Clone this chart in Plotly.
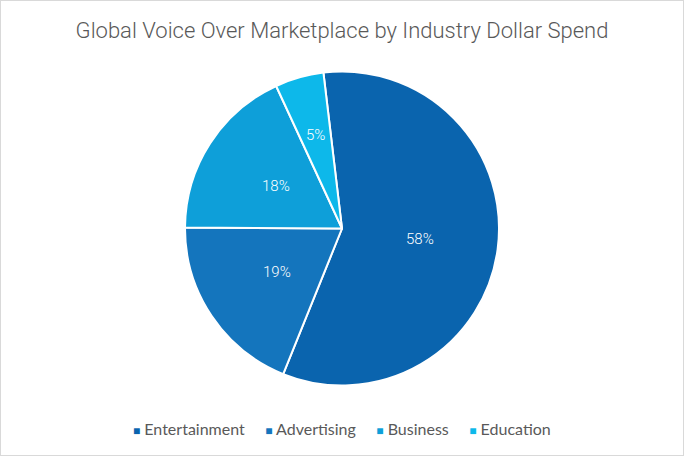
import math
import plotly.graph_objects as go

categories = ["Entertainment", "Advertising", "Business", "Education"]
values = [58, 19, 18, 5]
colors = ["#0a64ae", "#1475bd", "#0e9fd9", "#0db8ea"]
start_angle = -6.8            # first slice starts slightly left of 12 o'clock

W, H = 684, 456
CX, CY = 0.5, 1 - 228.5 / H   # pie centre in paper coords
R_PX = 157                    # pie radius in px
dom_h = 2 * R_PX / H

fig = go.Figure()
fig.add_trace(go.Pie(
    labels=categories,
    values=values,
    sort=False,
    direction="clockwise",
    rotation=start_angle,
    marker=dict(colors=colors, line=dict(color="white", width=2)),
    textinfo="none",
    domain=dict(x=[0, 1], y=[CY - dom_h / 2, CY + dom_h / 2]),
    hoverinfo="label+percent",
    showlegend=False,
))

# data labels placed at slice mid-angles (computed from the values)
total = sum(values)
annotations = []
cum = 0
for v in values:
    mid = math.radians(start_angle) + (cum + v / 2) / total * 2 * math.pi
    cum += v
    frac = 0.5 if v / total > 0.1 else 0.62
    r = frac * R_PX
    annotations.append(dict(
        x=CX + r * math.sin(mid) / W, y=CY + r * math.cos(mid) / H,
        xref="paper", yref="paper", showarrow=False,
        text=f"{v}%",
        font=dict(family="Roboto", size=15, color="#ffffff", weight=300),
        xanchor="center", yanchor="middle",
    ))

# legend row built from categories and colours
sep = "&nbsp;" * 5
legend_text = sep.join(
    f"<span style='color:{c};font-size:12px'>■</span>&nbsp;{lab}"
    for lab, c in zip(categories, colors)
)
annotations.append(dict(
    x=0.5, y=1 - 428 / H, xref="paper", yref="paper", showarrow=False,
    text=legend_text, xanchor="center", yanchor="middle",
    font=dict(family="Lato", size=16, color="#595959"),
))

fig.update_layout(
    width=W, height=H,
    margin=dict(l=0, r=0, t=0, b=0),
    paper_bgcolor="white",
    showlegend=False,
    title=dict(text="Global Voice Over Marketplace by Industry Dollar Spend",
               x=0.5, xanchor="center", y=1 - 30 / H, yanchor="middle",
               font=dict(family="Roboto", size=22, color="#595959", weight=300)),
    annotations=annotations,
    shapes=[dict(type="rect", xref="paper", yref="paper", x0=0, y0=0, x1=1, y1=1,
                 line=dict(color="#d9d9d9", width=2), fillcolor="rgba(0,0,0,0)")],
)

fig.write_html("out.html", config={"displayModeBar": False},
               post_script="document.body.style.margin='0';document.body.style.overflow='hidden';")
